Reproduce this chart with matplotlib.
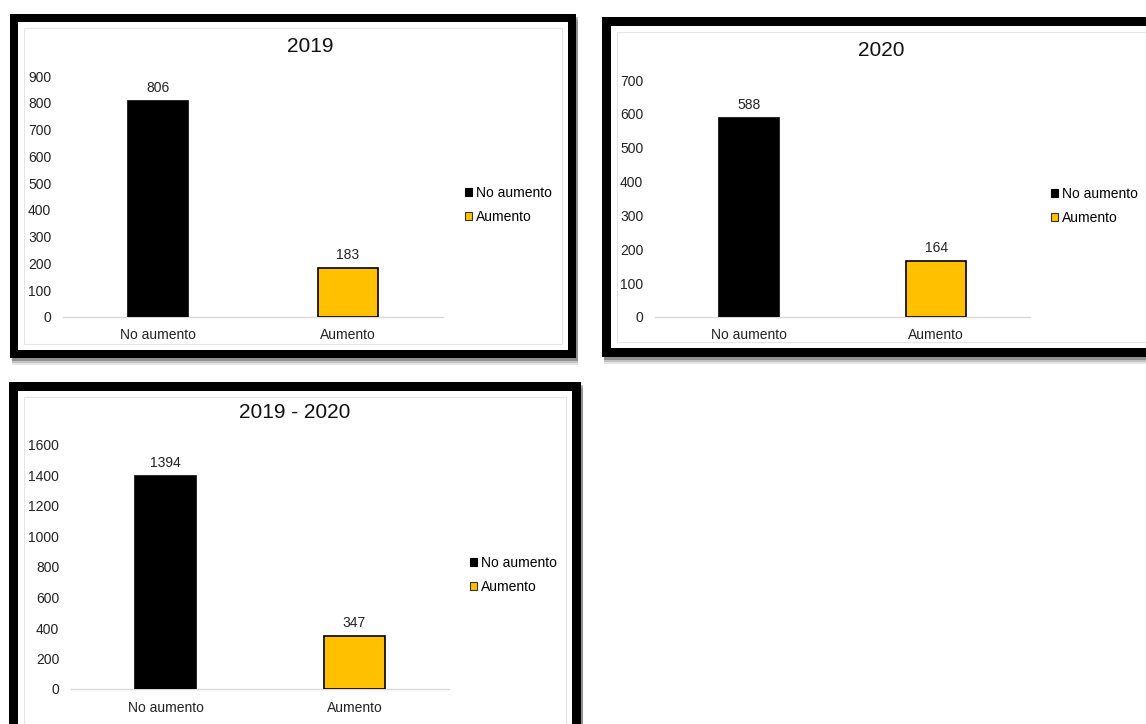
import matplotlib
matplotlib.use("Agg")
import matplotlib.pyplot as plt
from matplotlib.patches import Rectangle, Patch

plt.rcParams['font.family'] = ['Liberation Sans', 'DejaVu Sans']

W, H = 1146, 724

categories = ["No aumento", "Aumento"]
titles = ["2019", "2020", "2019 - 2020"]
values_2019 = [806, 183]
values_2020 = [588, 164]
values_total = [1394, 347]
ymax = [900, 700, 1600]
ystep = [100, 100, 200]
bar_colors = ["#000000", "#FFC000"]

fig = plt.figure(figsize=(W / 100, H / 100), dpi=100)
fig.patch.set_facecolor("white")


def fx(px):
    return px / W


def fy(py):
    return 1 - py / H


def frame(x0, y0, x1, y1, t):
    # drop shadow
    for k, a in [(7, 0.10), (5, 0.15), (3, 0.25)]:
        fig.patches.append(Rectangle((fx(x0 + 2), fy(y1 + k)), (x1 - x0) / W, (y1 - y0) / H,
                                     transform=fig.transFigure, facecolor="#000000",
                                     alpha=a, edgecolor="none", zorder=0))
    fig.patches.append(Rectangle((fx(x0), fy(y1)), (x1 - x0) / W, (y1 - y0) / H,
                                 transform=fig.transFigure, facecolor="#000000",
                                 edgecolor="none", zorder=1))
    fig.patches.append(Rectangle((fx(x0 + t), fy(y1 - t)), (x1 - x0 - 2 * t) / W, (y1 - y0 - 2 * t) / H,
                                 transform=fig.transFigure, facecolor="white",
                                 edgecolor="none", zorder=2))
    fig.patches.append(Rectangle((fx(x0 + t + 6), fy(y1 - t - 6)), (x1 - x0 - 2 * t - 12) / W,
                                 (y1 - y0 - 2 * t - 12) / H,
                                 transform=fig.transFigure, facecolor="none",
                                 edgecolor="#e4e4e4", lw=0.8, zorder=2))


panels = [
    # frame, axes (left, top(ymax), right, bottom(0)), title pos, legend pos, xlabel pad
    dict(vals=values_2019, frame=(10, 14, 576, 358, 8), ax=(63, 76, 443, 317),
         title=(310, 46), leg=(465, 205), xpad=8),
    dict(vals=values_2020, frame=(602, 17, 1170, 357, 9), ax=(655, 80, 1030, 317),
         title=(881, 50), leg=(1051, 206), xpad=8),
    dict(vals=values_total, frame=(9, 382, 581, 745, 9), ax=(71, 445, 449, 689),
         title=(295, 413), leg=(470, 575), xpad=9),
]

for i, p in enumerate(panels):
    frame(*p["frame"])
    l, t, r, b = p["ax"]
    ax = fig.add_axes([fx(l), fy(b), (r - l) / W, (b - t) / H], zorder=3)
    ax.set_facecolor("none")
    x = range(len(categories))
    bars = ax.bar(x, p["vals"], width=0.32, color=bar_colors, edgecolor="#000000",
                  linewidth=1.2, zorder=3)
    for xi, v in zip(x, p["vals"]):
        ax.annotate(str(v), (xi, v), xytext=(0, 9.5), textcoords="offset points",
                    ha="center", va="center", fontsize=10, color="#222222")
    ax.set_xlim(-0.5, 1.5)
    ax.set_ylim(0, ymax[i])
    ax.set_yticks(range(0, ymax[i] + 1, ystep[i]))
    ax.set_xticks(list(x))
    ax.set_xticklabels(categories)
    ax.tick_params(axis="both", length=0, labelsize=10, labelcolor="#222222")
    ax.tick_params(axis="y", pad=8.5)
    ax.tick_params(axis="x", pad=p["xpad"])
    for s in ["top", "right", "left"]:
        ax.spines[s].set_visible(False)
    ax.spines["bottom"].set_color("#d9d9d9")
    ax.spines["bottom"].set_linewidth(1.0)
    fig.text(fx(p["title"][0]), fy(p["title"][1]), titles[i], ha="center", va="center",
             fontsize=15, color="#111111")
    handles = [Patch(facecolor=bar_colors[0], edgecolor="#000000", lw=0.8),
               Patch(facecolor=bar_colors[1], edgecolor="#333333", lw=0.8)]
    fig.legend(handles, categories, loc="center left",
               bbox_to_anchor=(fx(p["leg"][0]), fy(p["leg"][1])),
               bbox_transform=fig.transFigure, frameon=False, fontsize=10,
               handlelength=0.5, handleheight=0.5, handletextpad=0.3,
               labelspacing=0.75, borderpad=0, borderaxespad=0)

fig.savefig("out.png", dpi=100)
